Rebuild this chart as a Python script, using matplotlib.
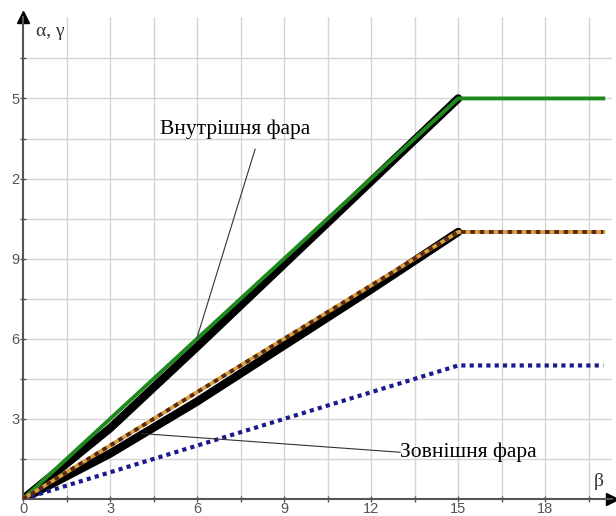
import numpy as np
import matplotlib
matplotlib.use('Agg')
import matplotlib.pyplot as plt

# data
beta_break = [0, 15, 20]
inner_green = [0, 15, 15]
outer_orange = [0, 10, 10]
blue_dotted = [0, 5, 5]
inner_black_x = [0, 3, 6, 9, 12, 15]
inner_black_y = [0, 2.65, 5.7, 8.8, 11.9, 15]
outer_black_x = [0, 3, 6, 9, 12, 15]
outer_black_y = [0, 1.7, 3.65, 5.75, 7.85, 10]

x_ticks = [0, 3, 6, 9, 12, 15, 18]
x_labels = ['0', '3', '6', '9', '12', '15', '18']
y_ticks = [3, 6, 9, 12, 15]
y_labels = ['3', '6', '9', '2', '5']

fig = plt.figure(figsize=(6.16, 5.16), dpi=100)
ax = fig.add_axes([23/616, 17/516, 589/616, 482/516])
ax.set_xlim(0, 20.3)
ax.set_ylim(0, 18.05)

# grid every 1.5
for gx in np.arange(1.5, 20, 1.5):
    ax.axvline(gx, color='#d4d4d4', lw=1, zorder=0)
for gy in np.arange(1.5, 17, 1.5):
    ax.axhline(gy, color='#d4d4d4', lw=1, zorder=0)

ax.plot(inner_black_x, inner_black_y, color='black', lw=6, solid_capstyle='round', zorder=2)
ax.plot(beta_break, inner_green, color='#1e8a1e', lw=2.8, zorder=3)
ax.plot(outer_black_x, outer_black_y, color='black', lw=6, solid_capstyle='round', zorder=2)
ax.plot(beta_break, outer_orange, color='#d9a040', lw=2.8, zorder=3)
ax.plot(beta_break, outer_orange, color='#5a2a10', lw=2.8, ls=(0, (1.2, 1.2)), zorder=4)
ax.plot(beta_break, blue_dotted, color='#1a1a8c', lw=3, ls=(0, (1, 1)), zorder=3)

for s in ['top', 'right']:
    ax.spines[s].set_visible(False)
for s in ['left', 'bottom']:
    ax.spines[s].set_color('#555555')
    ax.spines[s].set_linewidth(1.5)
ax.plot(1, 0, '>', color='black', ms=8, transform=ax.transAxes, clip_on=False)
ax.plot(0, 1, '^', color='black', ms=8, transform=ax.transAxes, clip_on=False)

ax.set_xticks(np.arange(0, 20, 1.5), minor=True)
ax.set_yticks(np.arange(1.5, 17, 1.5), minor=True)
ax.set_xticks(x_ticks)
ax.set_xticklabels(x_labels)
ax.set_yticks(y_ticks)
ax.set_yticklabels(y_labels)
ax.tick_params(which='both', direction='inout', length=5, color='#555555', width=1)
ax.tick_params(axis='both', labelsize=10.5, labelcolor='#555555', pad=0)
for lab in ax.get_xticklabels() + ax.get_yticklabels():
    lab.set_family('Liberation Sans')

ax.text(0.45, 17.5, 'α, γ', family='Liberation Serif', fontsize=14, color='#333333', va='center')
ax.text(19.85, 0.65, 'β', family='Liberation Serif', fontsize=14, color='#333333', ha='center', va='center')

# leader lines for the two captions
ax.plot([6.0, 8.0], [6.05, 13.1], color='#333333', lw=0.8, zorder=5)
ax.text(7.3, 13.85, 'Внутрішня фара', family='Liberation Serif', fontsize=15.5,
        ha='center', va='center')
ax.plot([4.1, 13.0], [2.45, 1.75], color='#333333', lw=0.8, zorder=5)
ax.text(13.0, 1.75, 'Зовнішня фара', family='Liberation Serif', fontsize=15.5,
        ha='left', va='center')

fig.savefig('out.png', dpi=100)
